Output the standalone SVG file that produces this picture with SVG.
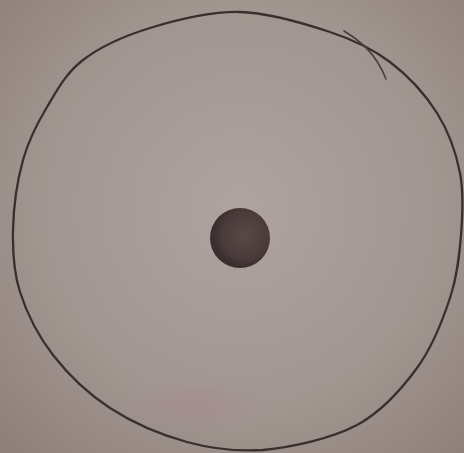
<svg xmlns="http://www.w3.org/2000/svg" width="464" height="453" viewBox="0 0 464 453">
<defs>
<radialGradient id="bg" cx="240" cy="210" r="330" gradientUnits="userSpaceOnUse">
<stop offset="0" stop-color="#aea39f"/>
<stop offset="0.6" stop-color="#a29691"/>
<stop offset="1" stop-color="#8f807a"/>
</radialGradient>
<radialGradient id="dotg" cx="245" cy="235" r="32" gradientUnits="userSpaceOnUse">
<stop offset="0" stop-color="#594848"/>
<stop offset="0.75" stop-color="#4a3a3a"/>
<stop offset="1" stop-color="#3b2e2e"/>
</radialGradient>
<radialGradient id="pink" cx="0.5" cy="0.5" r="0.5">
<stop offset="0" stop-color="#a5878b" stop-opacity="0.55"/>
<stop offset="1" stop-color="#a5878b" stop-opacity="0"/>
</radialGradient>
</defs>
<style>
.pen{fill:none;stroke:#3a2f2f;stroke-width:2.3;stroke-linecap:round;stroke-linejoin:round}
.faint{fill:none;stroke:#4a3f3f;stroke-width:1.6;stroke-linecap:round}
</style>
<rect x="0" y="0" width="464" height="453" fill="url(#bg)"/>
<ellipse cx="195" cy="405" rx="70" ry="25" fill="url(#pink)"/>
<g id="circle">
<path class="pen" d="M240,12 C270,12.7 305,23.7 330,32 C355,40.3 372.2,48.5 390,62 C407.8,75.5 425.3,94.5 437,113 C448.7,131.5 456,152.7 460,173 C464,193.3 462.7,214.2 461,235 C459.3,255.8 457.3,275.8 450,298 C442.7,320.2 432.5,346.8 417,368 C401.5,389.2 382.7,411.3 357,425 C331.3,438.7 291.3,447.2 263,450 C234.7,451.8 212.5,449 187,442 C161.5,435 132.3,422.5 110,408 C87.7,393.5 68,374.3 53,355 C38,335.7 26.7,312.8 20,292 C13.3,271.2 12.5,252 13,230 C13.5,208 17.3,180.5 23,160 C28.7,139.5 37,123.7 47,107 C57,90.3 65.8,73.2 83,60 C100.2,46.8 123.8,36 150,28 C176.2,20 210,11.3 240,12 Z"/>
<path class="faint" d="M344,31 C359,40 376,53 386,79"/>
</g>
<g id="dot">
<circle cx="240" cy="238" r="30" fill="url(#dotg)"/>
</g>
</svg>
